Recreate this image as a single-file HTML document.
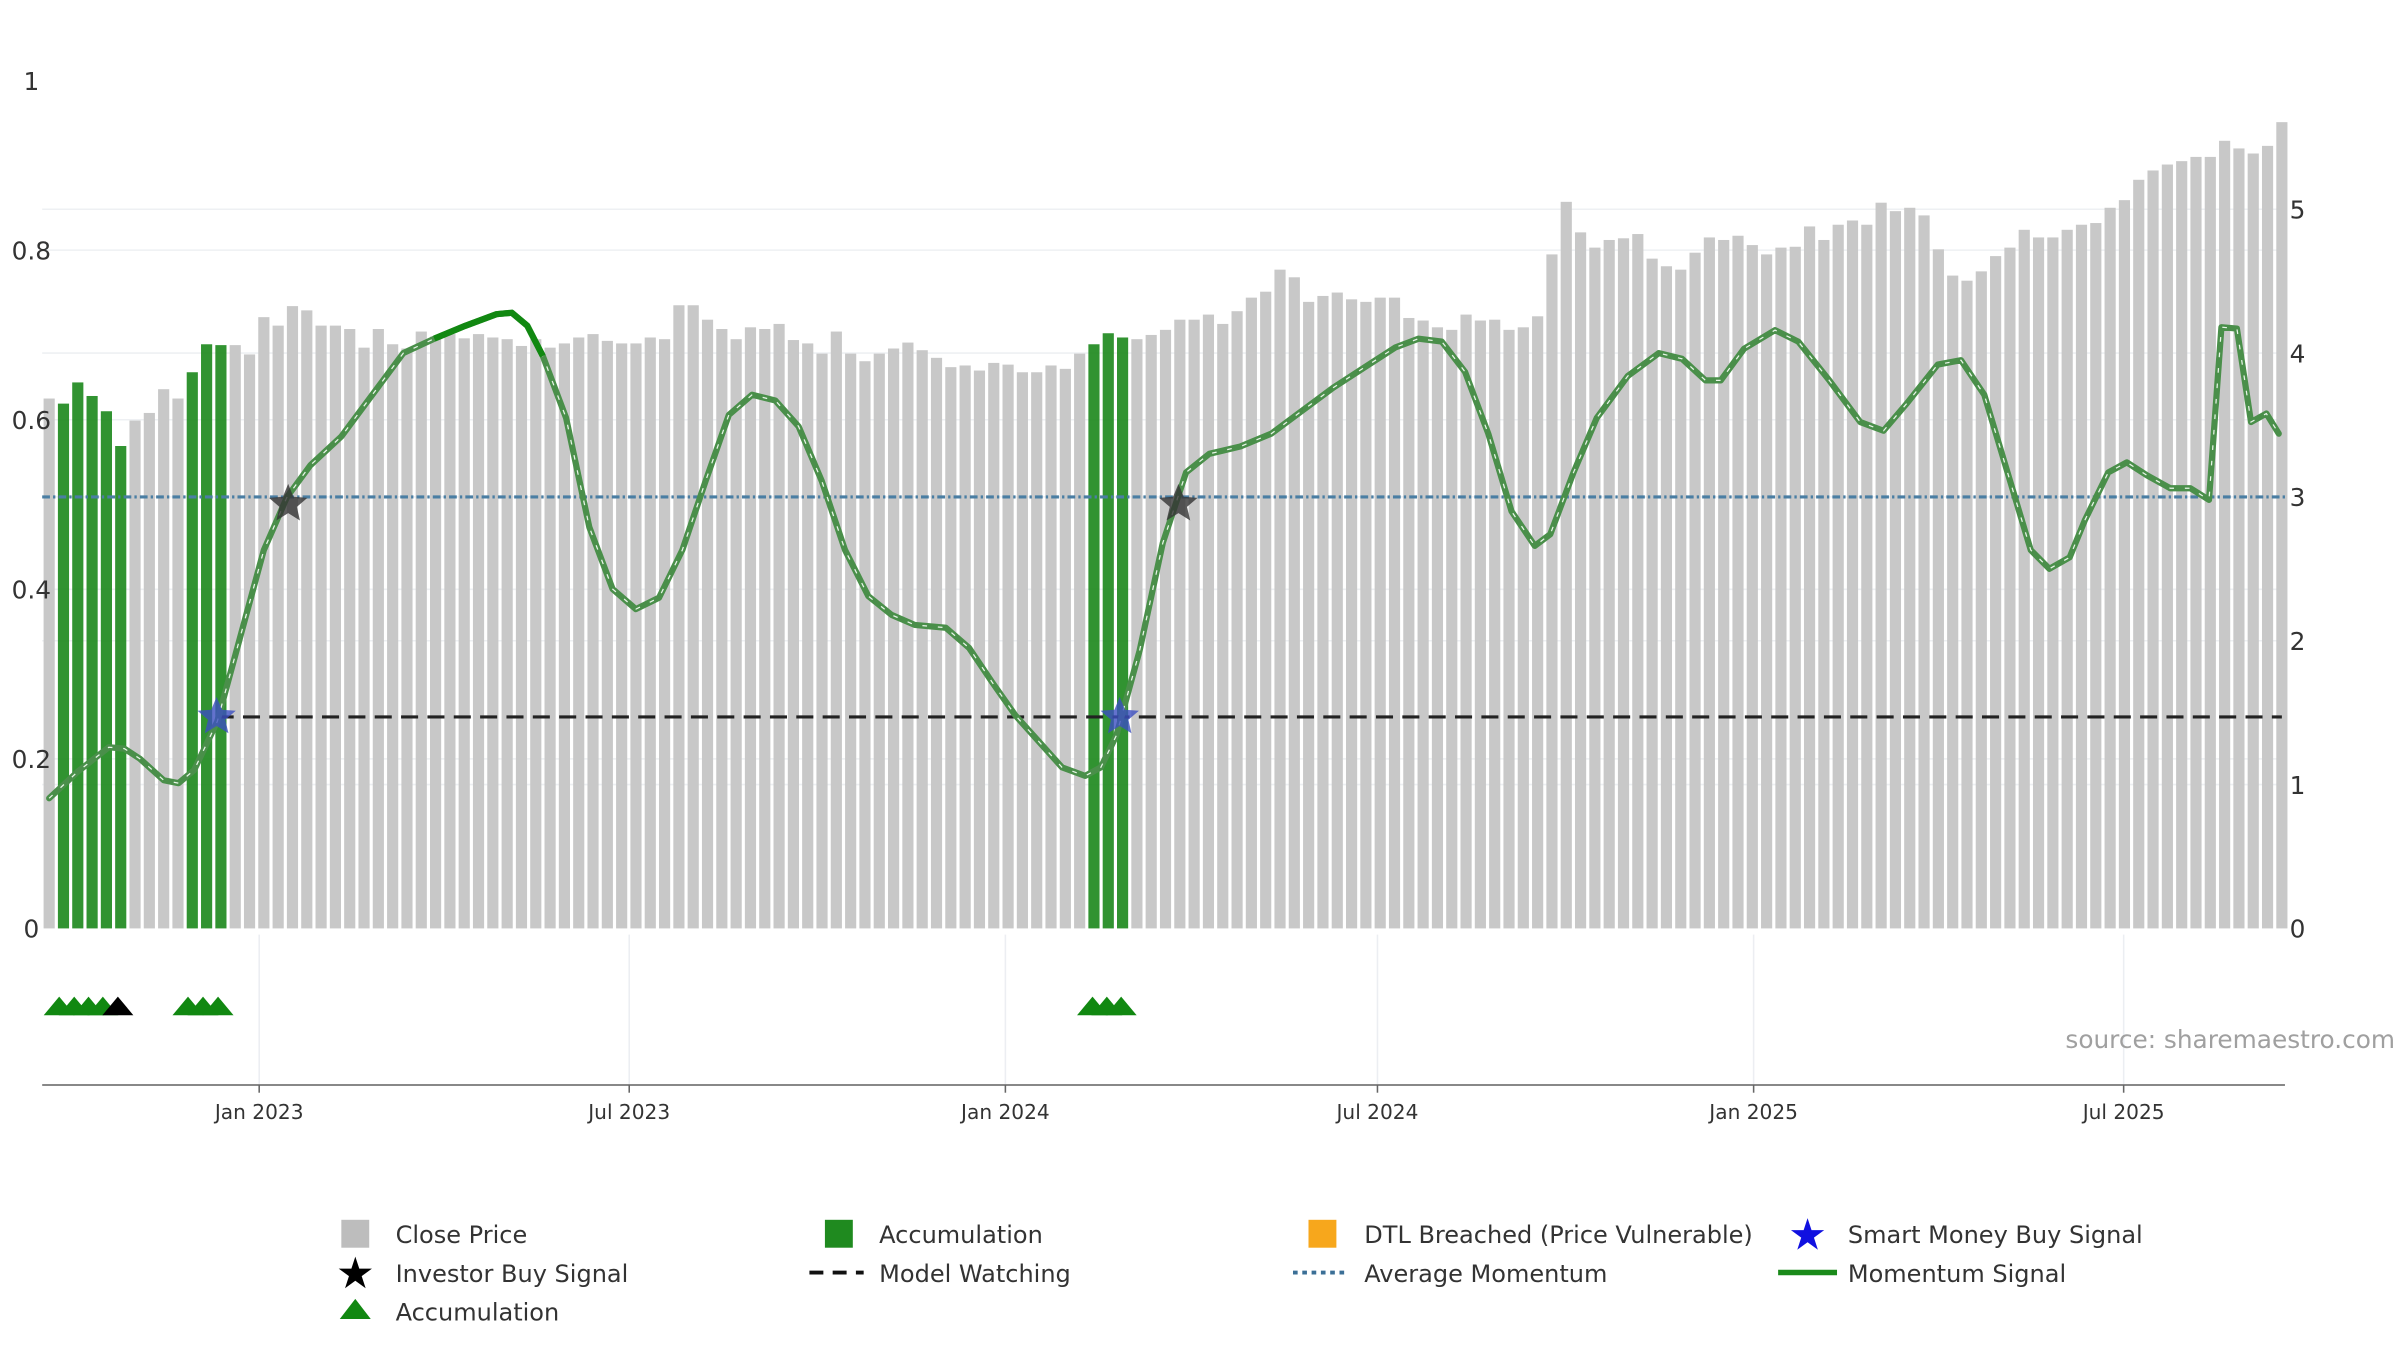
<!DOCTYPE html>
<html><head><meta charset="utf-8"><style>
html,body{margin:0;padding:0;background:#fff;}
svg{display:block;font-family:"DejaVu Sans","Liberation Sans",sans-serif;}
</style></head><body>
<svg id="chart" width="2400" height="1350" viewBox="0 0 1548 871" xmlns="http://www.w3.org/2000/svg">
<g id="grid"></g>
<g id="bars"></g>
<g id="lines"></g>
<g id="marks"></g>
<g id="axes"></g>
<text x="1545" y="676" text-anchor="end" font-size="16" fill="#a0a0a0">source: sharemaestro.com</text>
<g id="legend" font-size="15.5" fill="#333">
  <rect x="220" y="787" width="18" height="18" fill="#bdbdbd"/>
  <text x="255" y="802">Close Price</text>
  <rect x="532" y="787" width="18" height="18" fill="#1f8a1f"/>
  <text x="567" y="802">Accumulation</text>
  <rect x="844" y="787" width="18" height="18" fill="#f7a71c"/>
  <text x="880" y="802">DTL Breached (Price Vulnerable)</text>
  <text x="1166" y="806" font-size="28" text-anchor="middle" fill="#1010e0">★</text>
  <text x="1192" y="802">Smart Money Buy Signal</text>
  <text x="229" y="831" font-size="28" text-anchor="middle" fill="#000">★</text>
  <text x="255" y="827">Investor Buy Signal</text>
  <line x1="522" y1="821" x2="557" y2="821" stroke="#111" stroke-width="2.5" stroke-dasharray="9 6"/>
  <text x="567" y="827">Model Watching</text>
  <line x1="834" y1="821" x2="870" y2="821" stroke="#3b6f96" stroke-width="2.5" stroke-dasharray="3 3"/>
  <text x="880" y="827">Average Momentum</text>
  <line x1="1147" y1="821" x2="1185" y2="821" stroke="#1a8a1a" stroke-width="3.5"/>
  <text x="1192" y="827">Momentum Signal</text>
  <polygon points="219,851 239,851 229,838" fill="#118811"/>
  <text x="255" y="852">Accumulation</text>
</g>
</svg>
<script>
const closes = [0.625,0.619,0.644,0.628,0.61,0.569,0.599,0.608,0.636,0.625,0.656,0.689,0.688,0.688,0.677,0.721,0.711,0.734,0.729,0.711,0.711,0.707,0.685,0.707,0.689,0.684,0.704,0.698,0.701,0.696,0.701,0.697,0.695,0.687,0.695,0.685,0.69,0.697,0.701,0.693,0.69,0.69,0.697,0.695,0.735,0.735,0.718,0.707,0.695,0.709,0.707,0.713,0.694,0.69,
0.678,0.704,0.678,0.669,0.678,0.684,0.691,0.682,0.673,0.662,0.664,0.658,0.667,0.665,0.656,0.656,0.664,0.660,0.678,0.689,0.702,0.697,0.695,0.700,0.706,0.718,0.718,0.724,0.713,0.728,0.744,0.751,0.777,0.768,0.739,0.746,0.750,0.742,0.739,0.744,0.744,0.720,0.717,0.709,0.706,0.724,0.717,0.718,0.706,0.709,0.722,0.795,0.857,0.821,0.803,0.812,0.814,0.819,0.790,0.781,0.777,0.797,0.815,0.812,0.817,0.806,0.795,0.803,0.804,0.828,0.812,0.830,0.835,0.830,0.856,0.846,0.850,0.841,0.801,0.770,0.764,0.775,0.793,0.803,0.824,0.815,0.815,0.824,0.830,0.832,0.850,0.859,0.883,0.894,0.901,0.905,0.910,0.910,0.929,0.920,0.914,0.923,0.951];
const accumIdx = [1,2,3,4,5,10,11,12,73,74,75];
const momWeeks = [0,2,4.17,5.25,6.34,8,9.04,10.13,11.75,13.38,15,16.62,18.25,20.41,22.58,24.75,26.91,29.08,31.25,32.33,33.41,34.49,36.12,37.74,39.36,40.99,42.61,44.24,45.86,47.49,49.11,50.74,52.36,53.99,55.61,57.23,58.86,60.48,62.65,64.27,65.9,67.52,69.15,70.77,72.39,73.48,74.56,76.19,77.81,79.44,81.06,83.23,85.39,87.56,89.72,91.89,94.06,95.68,97.3,98.93,100.55,102.18,103.8,104.88,106.51,108.13,110.3,112.47,114.09,115.72,116.8,118.42,120.59,122.21,124.38,126.54,128.17,129.79,131.96,133.58,135.21,136.83,138.46,139.76,141.17,142.25,143.87,145.17,146.58,148.2,149.61,150.91,151.78,152.86,153.84,154.92,155.78];
const momValues = [0.905,1.09,1.26,1.25,1.18,1.03,1.01,1.10,1.44,2.04,2.63,3.0,3.22,3.42,3.71,4.0,4.1,4.19,4.27,4.28,4.19,3.98,3.55,2.79,2.36,2.22,2.30,2.63,3.11,3.57,3.71,3.67,3.49,3.11,2.63,2.31,2.18,2.11,2.09,1.95,1.71,1.48,1.30,1.12,1.06,1.12,1.34,1.93,2.68,3.17,3.30,3.35,3.44,3.60,3.76,3.90,4.04,4.10,4.08,3.87,3.44,2.90,2.66,2.74,3.17,3.55,3.84,4.0,3.96,3.81,3.81,4.03,4.16,4.08,3.81,3.52,3.46,3.65,3.92,3.95,3.71,3.17,2.63,2.50,2.58,2.84,3.17,3.24,3.15,3.06,3.06,2.98,4.18,4.17,3.52,3.58,3.44];
const avgMomentum = 3.0;
const modelWatching = 1.47;
const smartMoneyWeeks = [11.7, 74.8];
const investorWeeks = [16.7, 78.9];
const investorLevel = 2.95;
const triGreenWeeks = [0.7,1.75,2.75,3.75,9.7,10.75,11.8,72.9,73.9,74.9];
const triBlackWeeks = [4.8];
const leftTicks = [0,0.2,0.4,0.6,0.8,1];
const leftTickLabels = ["0","0.2","0.4","0.6","0.8","1"];
const rightTicks = [0,1,2,3,4,5];
const dateTickLabels = ["Jan 2023","Jul 2023","Jan 2024","Jul 2024","Jan 2025","Jul 2025"];
const dateTickDays = [0,181,365,547,731,912]; // days after 1 Jan 2023

const NS="http://www.w3.org/2000/svg";
const X0=27,X1=1474,Y0=599;
function xw(w){return 31.5+w*9.234;}
function xd(d){return 167+d*1.319;}
function yL(v){return Y0-v*547;}
function yR(v){return Y0-v*92.8;}
function mk(tag,parent,attrs){const e=document.createElementNS(NS,tag);for(const k in attrs)e.setAttribute(k,attrs[k]);parent.appendChild(e);return e;}
const G=id=>document.getElementById(id);

// grid
leftTicks.forEach(t=>{if(t>0&&t<1){const l=mk('line',G('grid'),{x1:X0,x2:X1,y1:yL(t),y2:yL(t),stroke:'#eef0f3','stroke-width':1});

}});
rightTicks.forEach(t=>{if(t>0){const l=mk('line',G('grid'),{x1:X0,x2:X1,y1:yR(t),y2:yR(t),stroke:'#eef0f3','stroke-width':1});

}});
dateTickDays.forEach(d=>{const l=mk('line',G('grid'),{x1:xd(d),x2:xd(d),y1:603,y2:700,stroke:'#eceef2','stroke-width':1});

});

// bars
closes.forEach((v,i)=>{const acc=accumIdx.includes(i);
const r=mk('rect',G('bars'),{x:xw(i)-3.6,y:yL(v),width:7.2,height:Y0-yL(v),fill:acc?'#1f8a1f':'#c8c8c8','fill-opacity':acc?0.92:1});

});

// avg momentum
const avg=mk('line',G('lines'),{x1:X0,x2:X1,y1:yR(avgMomentum),y2:yR(avgMomentum),stroke:'#4a7ea3','stroke-width':2,'stroke-dasharray':'5 2 1.5 2'});


// model watching
const mw=mk('line',G('lines'),{x1:xw(smartMoneyWeeks[0]),x2:xw(closes.length-1),y1:yR(modelWatching),y2:yR(modelWatching),stroke:'#222','stroke-width':2,'stroke-dasharray':'11 6'});



// momentum
let d='';momWeeks.forEach((w,i)=>{d+=(i?'L':'M')+xw(w).toFixed(1)+','+yR(momValues[i]).toFixed(1);});
const m1=mk('path',G('lines'),{d:d,fill:'none',stroke:'#4a8f4a','stroke-width':4,'stroke-linejoin':'round','stroke-linecap':'round'});


const m2=mk('path',G('lines'),{d:d,fill:'none',stroke:'#e8f5e8','stroke-width':0.8,'stroke-dasharray':'3 7'});


let ds='';let first=true;momWeeks.forEach((w,i)=>{if(w>=26.9&&w<=34.5){ds+=(first?'M':'L')+xw(w).toFixed(1)+','+yR(momValues[i]).toFixed(1);first=false;}});
const m3=mk('path',G('lines'),{d:ds,fill:'none',stroke:'#118811','stroke-width':4,'stroke-linejoin':'round'});



// stars
function star(cx,cy,r,fill,name){let p=[];for(let k=0;k<10;k++){const a=-Math.PI/2+k*Math.PI/5;const rr=k%2?r*0.45:r;p.push((cx+rr*Math.cos(a)).toFixed(1)+','+(cy+rr*Math.sin(a)).toFixed(1));}
const s=mk('polygon',G('marks'),{points:p.join(' '),fill:fill,'fill-opacity':0.8});

}
smartMoneyWeeks.forEach(w=>star(xw(w),yR(modelWatching),13,'#3c4fc0','smart-money-star'));
investorWeeks.forEach(w=>star(xw(w),yR(investorLevel),13,'#333','investor-buy-star'));
// triangles
function tri(w,fill,name){const cx=xw(w);const t=mk('polygon',G('marks'),{points:(cx-10)+',655 '+(cx+10)+',655 '+cx+',643',fill:fill});

}
triGreenWeeks.forEach(w=>tri(w,'#118811','accumulation-triangle'));
triBlackWeeks.forEach(w=>tri(w,'#000','black-triangle'));

// axes
const ax=mk('line',G('axes'),{x1:X0,x2:X1,y1:700,y2:700,stroke:'#888','stroke-width':1.3});


dateTickDays.forEach((dd,i)=>{const tk=mk('line',G('axes'),{x1:xd(dd),x2:xd(dd),y1:700,y2:705,stroke:'#666','stroke-width':1});


const t=mk('text',G('axes'),{x:xd(dd),y:722,'text-anchor':'middle','font-size':13,fill:'#333'});t.textContent=dateTickLabels[i];

});
leftTicks.forEach((v,i)=>{const t=mk('text',G('axes'),{x:20,y:yL(v)+6,'text-anchor':'middle','font-size':16,fill:'#333'});t.textContent=leftTickLabels[i];

});
rightTicks.forEach(v=>{const t=mk('text',G('axes'),{x:1477,y:yR(v)+6,'font-size':16,fill:'#333'});t.textContent=String(v);

});
</script>
</body></html>
